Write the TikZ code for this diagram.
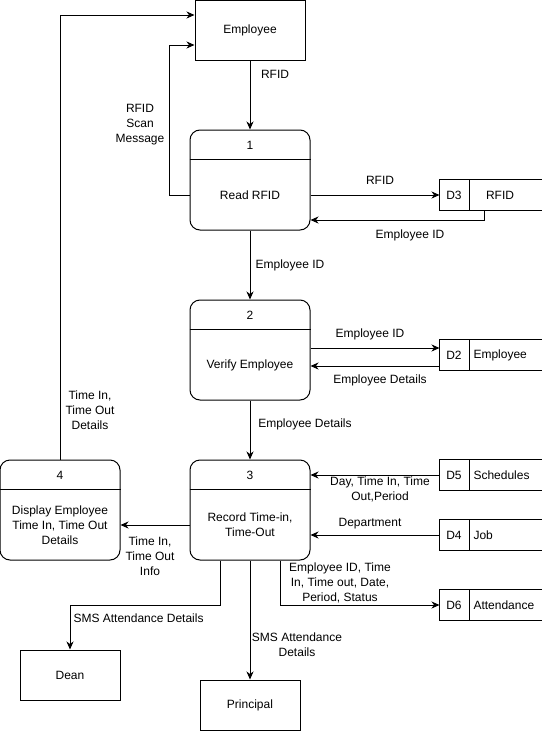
\documentclass[tikz,border=0pt]{standalone}
\usepackage{fontspec}
\setmainfont{Liberation Sans}
\usetikzlibrary{arrows.meta,calc}
\begin{document}
\begin{tikzpicture}[x=1pt,y=-1pt,
  font=\fontsize{12}{15}\selectfont,
  line width=1pt,
  arr/.style={-{Stealth[length=8pt,width=7pt,inset=2.5pt]}},
  entity/.style={draw, inner sep=0pt, minimum width=#1, minimum height=50pt},
  proc/.style={draw, rounded corners=10pt, inner sep=0pt, minimum width=120pt, minimum height=100pt},
  store/.style={inner sep=0pt, minimum width=101pt, minimum height=30pt},
  lbl/.style={inner sep=0pt, align=center},
]
\useasboundingbox (0,0) rectangle (541,731);

% external entities
\node[entity=110pt, minimum height=60pt] (emp) at (250,30) {};
\node[lbl] (empT) at (250,30) {Employee};
\node[entity=100pt] (dean) at (70,675) {};
\node[lbl] (deanT) at (70,675) {Dean};
\node[entity=100pt] (prin) at (250,705) {};
\node[lbl] (prinT) at (250,705) {Principal};

% processes
\node[proc] (p1) at (250,180) {};
\node[proc] (p2) at (250,350) {};
\node[proc] (p3) at (250,510) {};
\node[proc] (p4) at (60,510) {};
\foreach \p in {p1,p2,p3,p4}
  \draw ($(\p.north west)+(0,30)$) -- ($(\p.north east)+(0,30)$);
\node[lbl] (p1n) at (250,145) {1};
\node[lbl] (p1t) at (250,195) {Read RFID};
\node[lbl] (p2n) at (250,315) {2};
\node[lbl] (p2t) at (250,365) {Verify Employee};
\node[lbl] (p3n) at (250,475) {3};
\node[lbl] (p3t) at (250,525) {Record Time-in,\\Time-Out};
\node[lbl] (p4n) at (60,475) {4};
\node[lbl] (p4t) at (60,525) {Display Employee\\Time In, Time Out\\Details};

% data stores
\foreach \s/\y in {d3/195,d2/355,d5/475,d4/535,d6/605} {
  \node[store] (\s) at (490.5,\y) {};
  \draw (\s.north east) -- (\s.north west) -- (\s.south west) -- (\s.south east);
  \draw ($(\s.north west)+(30,0)$) -- ($(\s.south west)+(30,0)$);
}
\node[lbl] (d3a) at (454,195) {D3};
\node[lbl] (d3b) at (500,195) {RFID};
\node[lbl] (d2a) at (454,355) {D2};
\node[lbl, anchor=west] (d2b) at (473,355) {Employee};
\node[lbl] (d5a) at (454,475) {D5};
\node[lbl, anchor=west] (d5b) at (473,475) {Schedules};
\node[lbl] (d4a) at (454,535) {D4};
\node[lbl, anchor=west] (d4b) at (473,535) {Job};
\node[lbl] (d6a) at (454,605) {D6};
\node[lbl, anchor=west] (d6b) at (473,605) {Attendance};

% connectors
\draw[arr] (emp) -- (p1);
\draw[arr] ($(p1.west)+(0,15)$) -- ++(-20,0) |- ($(emp.west)+(0,15)$);
\draw[arr] (p4.north) |- ($(emp.west)+(0,-15)$);
\draw[arr] (p1.east |- d3.west) -- (d3.west);
\draw[arr] ($(d3.south west)+(45,0)$) |- ($(p1.east)+(0,40)$);
\draw[arr] (p1) -- (p2);
\draw[arr] ($(p2.east)+(0,-2)$) -- ($(d2.west)+(0,-7)$);
\draw[arr] ($(d2.west)+(0,11)$) -- ($(p2.east)+(0,16)$);
\draw[arr] (p2) -- (p3);
\draw[arr] (d5.west) -- (d5.west -| p3.east);
\draw[arr] (d4.west) -- (d4.west -| p3.east);
\draw[arr] ($(p3.west)+(0,15)$) -- ($(p4.east)+(0,15)$);
\draw[arr] ($(p3.south)+(30,0)$) |- (d6.west);
\draw[arr] ($(p3.south)+(-30,0)$) -- ++(0,45) -| (dean.north);
\draw[arr] (p3) -- (prin);

% connector labels
\node[lbl] (l1) at (275,74) {RFID};
\node[lbl] (l2) at (140,125) {RFID\\Scan\\Message};
\node[lbl] (l3) at (380,180) {RFID};
\node[lbl] (l4) at (410,235) {Employee ID};
\node[lbl] (l5) at (290,265) {Employee ID};
\node[lbl] (l6) at (370,334) {Employee ID};
\node[lbl] (l7) at (380,380) {Employee Details};
\node[lbl] (l8) at (305,424) {Employee Details};
\node[lbl] (l9) at (90,410) {Time In,\\Time Out\\Details};
\node[lbl] (l10) at (150,556) {Time In,\\Time Out\\Info};
\node[lbl] (l11) at (380,489) {Day, Time In, Time\\Out,Period};
\node[lbl] (l12) at (370,524) {Department};
\node[lbl] (l13) at (340,583) {Employee ID, Time\\In, Time out, Date,\\Period, Status};
\node[lbl, anchor=west] (l14) at (73,618) {SMS Attendance Details};
\node[lbl] (l15) at (297,645) {SMS Attendance\\Details};
\end{tikzpicture}
\end{document}
